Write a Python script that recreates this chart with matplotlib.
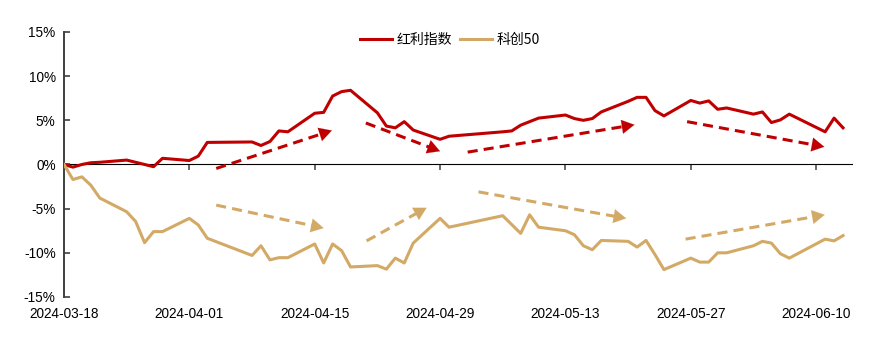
import pandas as pd
import matplotlib
matplotlib.use("Agg")
import matplotlib.pyplot as plt
import matplotlib.dates as mdates
from matplotlib.ticker import FuncFormatter

plt.rcParams["font.family"] = ["Liberation Sans", "Noto Sans CJK SC", "DejaVu Sans"]

RED = "#C00000"
TAN = "#D3A966"

# trading days (calendar axis, holidays leave gaps)
dates = pd.to_datetime([
    "2024-03-18", "2024-03-19", "2024-03-20", "2024-03-21", "2024-03-22",
    "2024-03-25", "2024-03-26", "2024-03-27", "2024-03-28", "2024-03-29",
    "2024-04-01", "2024-04-02", "2024-04-03",
    "2024-04-08", "2024-04-09", "2024-04-10", "2024-04-11", "2024-04-12",
    "2024-04-15", "2024-04-16", "2024-04-17", "2024-04-18", "2024-04-19",
    "2024-04-22", "2024-04-23", "2024-04-24", "2024-04-25", "2024-04-26",
    "2024-04-29", "2024-04-30",
    "2024-05-06", "2024-05-07", "2024-05-08", "2024-05-09", "2024-05-10",
    "2024-05-13", "2024-05-14", "2024-05-15", "2024-05-16", "2024-05-17",
    "2024-05-20", "2024-05-21", "2024-05-22", "2024-05-23", "2024-05-24",
    "2024-05-27", "2024-05-28", "2024-05-29", "2024-05-30", "2024-05-31",
    "2024-06-03", "2024-06-04", "2024-06-05", "2024-06-06", "2024-06-07",
    "2024-06-11", "2024-06-12", "2024-06-13",
])

dividend = [
    0.0, -0.3, 0.0, 0.2, 0.25, 0.5, 0.25, 0.0, -0.25, 0.7,
    0.45, 0.95, 2.5, 2.55, 2.15, 2.6, 3.8, 3.7, 5.8, 5.9,
    7.75, 8.25, 8.4, 5.85, 4.35, 4.15, 4.85, 3.9, 2.85, 3.2,
    3.7, 3.8, 4.45, 4.85, 5.25, 5.6, 5.2, 5.0, 5.2, 5.95,
    7.15, 7.6, 7.6, 6.1, 5.5, 7.25, 6.95, 7.2, 6.25, 6.4,
    5.7, 5.95, 4.75, 5.05, 5.7, 3.7, 5.25, 4.15,
]

star50 = [
    0.0, -1.7, -1.4, -2.35, -3.8, -5.35, -6.45, -8.85, -7.6, -7.6,
    -6.1, -6.85, -8.35, -10.3, -9.2, -10.8, -10.55, -10.55, -9.0, -11.15,
    -9.0, -9.75, -11.6, -11.45, -11.85, -10.6, -11.15, -8.9, -6.1, -7.1,
    -5.8, -6.8, -7.8, -5.7, -7.1, -7.5, -7.95, -9.2, -9.65, -8.6,
    -8.7, -9.35, -8.6, -10.2, -11.9, -10.6, -11.05, -11.05, -10.0, -10.0,
    -9.2, -8.7, -8.9, -10.1, -10.6, -8.45, -8.65, -8.05,
]

# trend arrows: (start date, start %, end date, end %)
red_arrows = [
    ("2024-04-04", -0.45, "2024-04-16 22:00", 3.85),
    ("2024-04-20 17:00", 4.7, "2024-04-29", 1.5),
    ("2024-05-02 02:00", 1.4, "2024-05-20 17:00", 4.5),
    ("2024-05-26 14:00", 4.85, "2024-06-10 22:00", 2.0),
]
tan_arrows = [
    ("2024-04-04", -4.6, "2024-04-16", -7.2),
    ("2024-04-20 19:00", -8.65, "2024-04-27 12:00", -4.9),
    ("2024-05-03 07:00", -3.1, "2024-05-19 19:00", -6.1),
    ("2024-05-26 10:00", -8.45, "2024-06-10 23:00", -5.7),
]

tick_dates = pd.to_datetime(["2024-03-18", "2024-04-01", "2024-04-15", "2024-04-29",
                             "2024-05-13", "2024-05-27", "2024-06-10"])


def draw_arrow(ax, a, color):
    x0, y0 = mdates.date2num(pd.Timestamp(a[0])), a[1]
    x1, y1 = mdates.date2num(pd.Timestamp(a[2])), a[3]
    f = 0.94
    xm, ym = x0 + f * (x1 - x0), y0 + f * (y1 - y0)
    ax.plot([x0, xm], [y0, ym], color=color, lw=2.2, linestyle=(0, (3.3, 2.0)),
            solid_capstyle="butt", dash_capstyle="butt", zorder=2)
    ax.annotate("", xy=(x1, y1), xytext=(xm - 0.02 * (x1 - x0), ym - 0.02 * (y1 - y0)),
                arrowprops=dict(arrowstyle="-|>,head_length=0.45,head_width=0.25",
                                color=color, lw=0.1, mutation_scale=20,
                                shrinkA=0, shrinkB=0),
                zorder=2)


fig = plt.figure(figsize=(8.85, 3.52), dpi=100)
ax = fig.add_axes([0.0723, 0.1563, 0.8904, 0.7528])

ax.plot(dates, dividend, color=RED, lw=2.2, label="红利指数", zorder=3)
ax.plot(dates, star50, color=TAN, lw=2.2, label="科创50", zorder=3)

for a in red_arrows:
    draw_arrow(ax, a, RED)
for a in tan_arrows:
    draw_arrow(ax, a, TAN)

ax.set_ylim(-15, 15)
ax.set_yticks([-15, -10, -5, 0, 5, 10, 15])
ax.yaxis.set_major_formatter(FuncFormatter(lambda v, p: f"{v:.0f}%"))
ax.set_xlim(pd.Timestamp("2024-03-18"), pd.Timestamp("2024-06-14"))
ax.set_xticks(tick_dates)
ax.set_xticklabels([d.strftime("%Y-%m-%d") for d in tick_dates])

for s in ["top", "right", "bottom"]:
    ax.spines[s].set_visible(False)
ax.spines["left"].set_color("#404040")
ax.spines["left"].set_linewidth(1.4)
ax.tick_params(axis="y", direction="in", length=4, width=1.2, color="#404040",
               labelsize=9.8, pad=6)
ax.tick_params(axis="x", length=0, labelsize=9.8, pad=7)

# axis line through zero with upward tick marks
sec = ax.secondary_xaxis(0.5)
sec.set_xticks(tick_dates)
sec.set_xticklabels([])
sec.spines["bottom"].set_color("#505050")
sec.spines["bottom"].set_linewidth(1.6)
sec.tick_params(direction="in", length=4, width=1.2, color="#505050")

leg = ax.legend(loc="upper center", bbox_to_anchor=(0.49, 1.045), ncol=2, frameon=False,
                prop={"family": ["Noto Sans CJK SC", "DejaVu Sans"], "size": 10},
                handlelength=2.3, columnspacing=0.6, handletextpad=0.3)

fig.savefig("out.png", dpi=100)
